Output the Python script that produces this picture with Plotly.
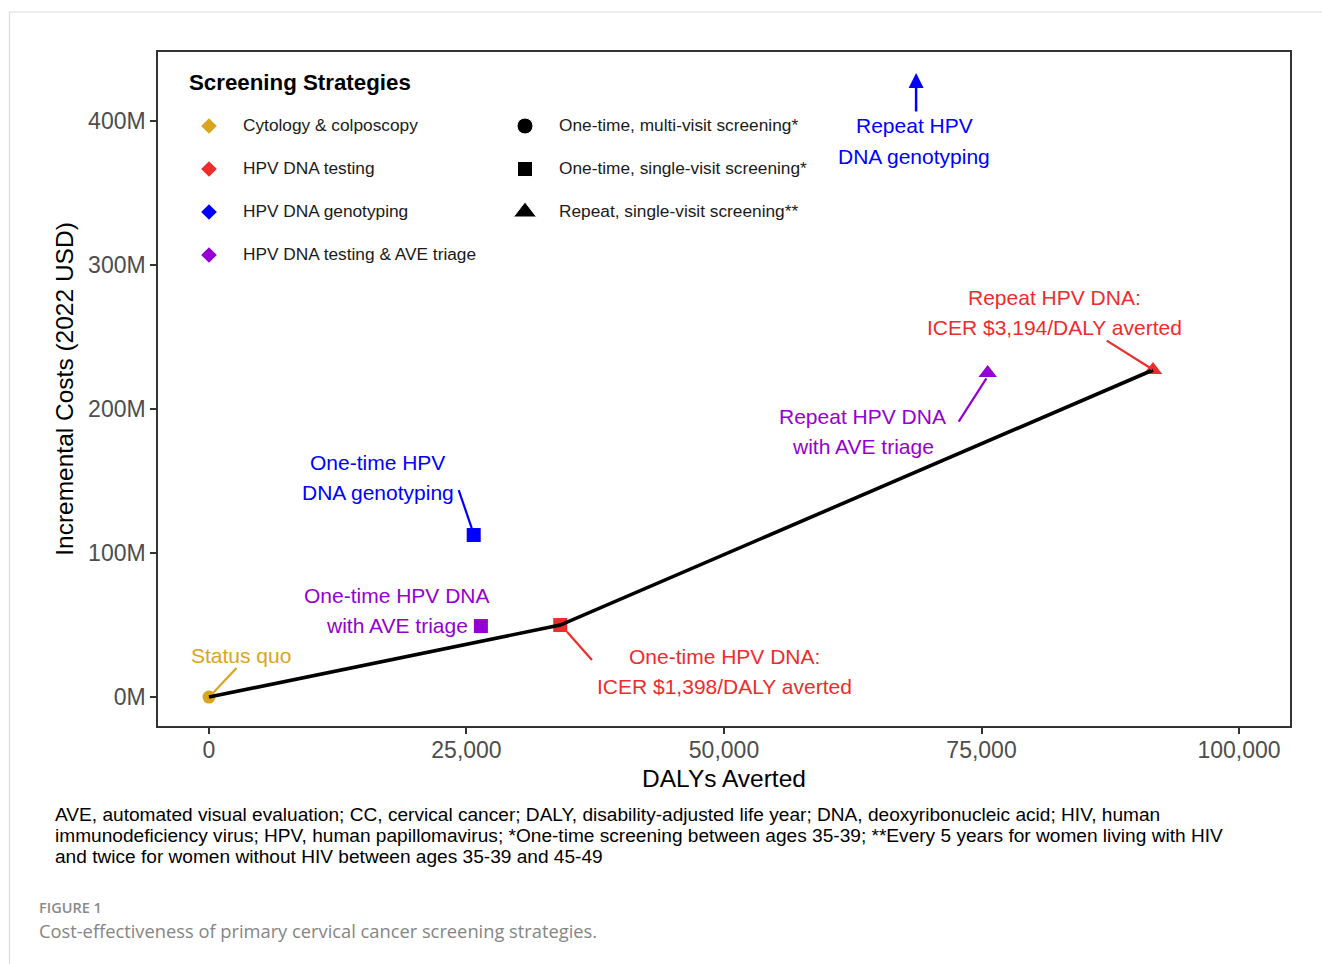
import plotly.graph_objects as go

# ---------------- data ----------------
strategies = ["Status quo", "One-time HPV DNA", "Repeat HPV DNA",
              "One-time HPV DNA genotyping", "One-time HPV DNA with AVE triage",
              "Repeat HPV DNA with AVE triage"]
dalys_averted = [0, 34100, 91650, 25700, 26400, 75600]
incremental_costs_m = [0.0, 50.0, 227.1, 112.5, 49.3, 225.0]
test_type = ["Cytology & colposcopy", "HPV DNA testing", "HPV DNA testing",
             "HPV DNA genotyping", "HPV DNA testing & AVE triage",
             "HPV DNA testing & AVE triage"]
schedule = ["One-time, multi-visit screening*", "One-time, single-visit screening*",
            "Repeat, single-visit screening**", "One-time, single-visit screening*",
            "One-time, single-visit screening*", "Repeat, single-visit screening**"]
frontier = ["Status quo", "One-time HPV DNA", "Repeat HPV DNA"]
offchart_strategy = "Repeat HPV DNA genotyping"
offchart_dalys = 68650

x_ticks = [0, 25000, 50000, 75000, 100000]
x_tick_labels = ["0", "25,000", "50,000", "75,000", "100,000"]
y_ticks = [0, 100, 200, 300, 400]
y_tick_labels = ["0M", "100M", "200M", "300M", "400M"]

test_types = ["Cytology & colposcopy", "HPV DNA testing", "HPV DNA genotyping",
              "HPV DNA testing & AVE triage"]
schedules = ["One-time, multi-visit screening*", "One-time, single-visit screening*",
             "Repeat, single-visit screening**"]

label_lines = {
    "Status quo": ["Status quo"],
    "One-time HPV DNA": ["One-time HPV DNA:", "ICER $1,398/DALY averted"],
    "Repeat HPV DNA": ["Repeat HPV DNA:", "ICER $3,194/DALY averted"],
    "One-time HPV DNA genotyping": ["One-time HPV", "DNA genotyping"],
    "One-time HPV DNA with AVE triage": ["One-time HPV DNA", "with AVE triage"],
    "Repeat HPV DNA with AVE triage": ["Repeat HPV DNA", "with AVE triage"],
}
offchart_lines = ["Repeat HPV", "DNA genotyping"]

footnote = [
    "AVE, automated visual evaluation; CC, cervical cancer; DALY, disability-adjusted life year; DNA, deoxyribonucleic acid; HIV, human",
    "immunodeficiency virus; HPV, human papillomavirus; *One-time screening between ages 35-39; **Every 5 years for women living with HIV",
    "and twice for women without HIV between ages 35-39 and 45-49",
]

# ---------------- styles ----------------
FONT = "Liberation Sans, Arial, sans-serif"
colors = {"Cytology & colposcopy": "#D9A520", "HPV DNA testing": "#EE2C2C",
          "HPV DNA genotyping": "#0000FF", "HPV DNA testing & AVE triage": "#9400D3"}
symbols = {"One-time, multi-visit screening*": "circle",
           "One-time, single-visit screening*": "square",
           "Repeat, single-visit screening**": "triangle-up"}
sizes = {"circle": 13, "square": 14, "triangle-up": 16}

# label offsets (pixels, x right / y up) relative to point: first line centre
label_off = {
    "Status quo": (32, 42),
    "One-time HPV DNA": (164, -31),
    "Repeat HPV DNA": (-99, 72),
    "One-time HPV DNA genotyping": (-96, 73),
    "One-time HPV DNA with AVE triage": (-84, 31),
    "Repeat HPV DNA with AVE triage": (-125, -43),
}
# segment offsets (x0, y0, x1, y1) pixels, y up
seg_off = {
    "Status quo": (27.5, 29, 4, 4),
    "One-time HPV DNA": (31.7, -35, 6.7, -6.7),
    "Repeat HPV DNA": (-46.3, 29.3, -0.7, 0.7),
    "One-time HPV DNA genotyping": (-15, 45, -2, 7),
    "Repeat HPV DNA with AVE triage": (-29, -48.7, -1.3, -5.3),
}
LINE_GAP = 30

W, H = 1322, 964
L, R, T, B = 158, 1290, 52, 726


def px(xp):
    return (xp - L) / (R - L)


def py(yp):
    return (B - yp) / (B - T)


idx = {s: i for i, s in enumerate(strategies)}

fig = go.Figure()

# strategy points
fig.add_trace(go.Scatter(
    x=dalys_averted, y=incremental_costs_m, mode="markers",
    marker=dict(color=[colors[t] for t in test_type],
                symbol=[symbols[s] for s in schedule], opacity=1,
                size=[sizes[symbols[s]] for s in schedule], line=dict(width=0)),
    showlegend=False, hoverinfo="skip", cliponaxis=False))

# efficiency frontier
fig.add_trace(go.Scatter(
    x=[dalys_averted[idx[s]] for s in frontier],
    y=[incremental_costs_m[idx[s]] for s in frontier],
    mode="lines", line=dict(color="black", width=3.6),
    showlegend=False, hoverinfo="skip"))

annotations = []
shapes = []

# labels
for s in strategies:
    col = colors[test_type[idx[s]]]
    dx, dy = label_off[s]
    for k, line in enumerate(label_lines[s]):
        annotations.append(dict(
            x=dalys_averted[idx[s]], y=incremental_costs_m[idx[s]], xref="x", yref="y",
            text=line, showarrow=False, xshift=dx, yshift=dy - k * LINE_GAP,
            xanchor="center", yanchor="middle",
            font=dict(family=FONT, size=21, color=col)))
    if s in seg_off:
        x0, y0, x1, y1 = seg_off[s]
        shapes.append(dict(
            type="line", xref="x", yref="y", xsizemode="pixel", ysizemode="pixel",
            xanchor=dalys_averted[idx[s]], yanchor=incremental_costs_m[idx[s]],
            x0=x0, y0=y0, x1=x1, y1=y1, line=dict(color=col, width=2.2)))

# off-chart strategy
annotations.append(dict(
    x=offchart_dalys, y=py(73), xref="x", yref="paper", text="", showarrow=True,
    ax=0, ay=40, axref="pixel", ayref="pixel", arrowhead=2, arrowsize=1.2,
    arrowwidth=2.5, arrowcolor=colors["HPV DNA genotyping"]))
for k, line in enumerate(offchart_lines):
    annotations.append(dict(
        x=offchart_dalys, y=py(125 + k * 31), xref="x", yref="paper", text=line,
        showarrow=False, xanchor="center", yanchor="middle", xshift=-2,
        font=dict(family=FONT, size=21, color=colors["HPV DNA genotyping"])))

# legend (manual, two columns)
annotations.append(dict(
    x=px(187), y=py(83), xref="paper", yref="paper", text="<b>Screening Strategies</b>",
    showarrow=False, xanchor="left", yanchor="middle",
    font=dict(family=FONT, size=22.3, color="black")))
leg_rows = [126, 169, 212, 255]
fig.add_trace(go.Scatter(
    x=[px(209)] * len(test_types), y=[py(r) for r in leg_rows[:len(test_types)]],
    xaxis="x2", yaxis="y2", mode="markers",
    marker=dict(symbol="diamond", size=12, opacity=1,
                color=[colors[t] for t in test_types]),
    showlegend=False, hoverinfo="skip", cliponaxis=False))
fig.add_trace(go.Scatter(
    x=[px(525)] * len(schedules), y=[py(r) for r in leg_rows[:len(schedules)]],
    xaxis="x2", yaxis="y2", mode="markers",
    marker=dict(symbol=[symbols[s] for s in schedules], size=[16, 15, 20],
                opacity=1, color="black"),
    showlegend=False, hoverinfo="skip", cliponaxis=False))
for t, r in zip(test_types, leg_rows):
    annotations.append(dict(
        x=px(241), y=py(r - 1), xref="paper", yref="paper", text=t, showarrow=False,
        xanchor="left", yanchor="middle", font=dict(family=FONT, size=17.3, color="#1a1a1a")))
for s, r in zip(schedules, leg_rows):
    annotations.append(dict(
        x=px(557), y=py(r - 1), xref="paper", yref="paper", text=s, showarrow=False,
        xanchor="left", yanchor="middle", font=dict(family=FONT, size=17.3, color="#1a1a1a")))

# footnote
for k, line in enumerate(footnote):
    annotations.append(dict(
        x=px(53), y=py(814 + 21 * k), xref="paper", yref="paper", text=line,
        showarrow=False, xanchor="left", yanchor="middle",
        font=dict(family=FONT, size=19.1, color="black")))

# caption
annotations.append(dict(
    x=px(37), y=py(907), xref="paper", yref="paper", text="FIGURE 1", showarrow=False,
    xanchor="left", yanchor="middle",
    font=dict(family="Open Sans, sans-serif", size=14.5, color="#8a8a8a", weight=600)))
annotations.append(dict(
    x=px(37), y=py(930), xref="paper", yref="paper",
    text="Cost-effectiveness of primary cervical cancer screening strategies.",
    showarrow=False, xanchor="left", yanchor="middle",
    font=dict(family="Open Sans, sans-serif", size=18.3, color="#858585")))

# outer frame
shapes.append(dict(type="rect", xref="paper", yref="paper",
                   x0=px(9.5), x1=px(1340), y0=py(990), y1=py(12),
                   line=dict(color="#dcdcdc", width=1.2), layer="below"))

fig.update_layout(
    width=W, height=H, margin=dict(l=L, r=W - R, t=T, b=H - B),
    paper_bgcolor="white", plot_bgcolor="white",
    font=dict(family=FONT),
    annotations=annotations, shapes=shapes,
    xaxis=dict(range=[-4950, 104950], tickvals=x_ticks, ticktext=x_tick_labels,
               showgrid=False, zeroline=False, showline=True, mirror=True,
               linecolor="#333333", linewidth=1.5, ticks="outside", ticklen=6,
               tickwidth=1.5, tickcolor="#333333", ticklabelstandoff=-3,
               tickfont=dict(family=FONT, size=23, color="#4D4D4D"),
               title=dict(text="DALYs Averted", standoff=8,
                          font=dict(family=FONT, size=24.5, color="black"))),
    yaxis=dict(range=[-20.1, 447.9], tickvals=y_ticks, ticktext=y_tick_labels,
               showgrid=False, zeroline=False, showline=True, mirror=True,
               linecolor="#333333", linewidth=1.5, ticks="outside", ticklen=6,
               tickwidth=1.5, tickcolor="#333333",
               tickfont=dict(family=FONT, size=23, color="#4D4D4D"),
               title=dict(text="Incremental Costs (2022 USD)", standoff=8,
                          font=dict(family=FONT, size=24.5, color="black"))),
    xaxis2=dict(range=[0, 1], overlaying="x", visible=False, fixedrange=True),
    yaxis2=dict(range=[0, 1], overlaying="y", visible=False, fixedrange=True),
)

fig.write_html("out.html")
